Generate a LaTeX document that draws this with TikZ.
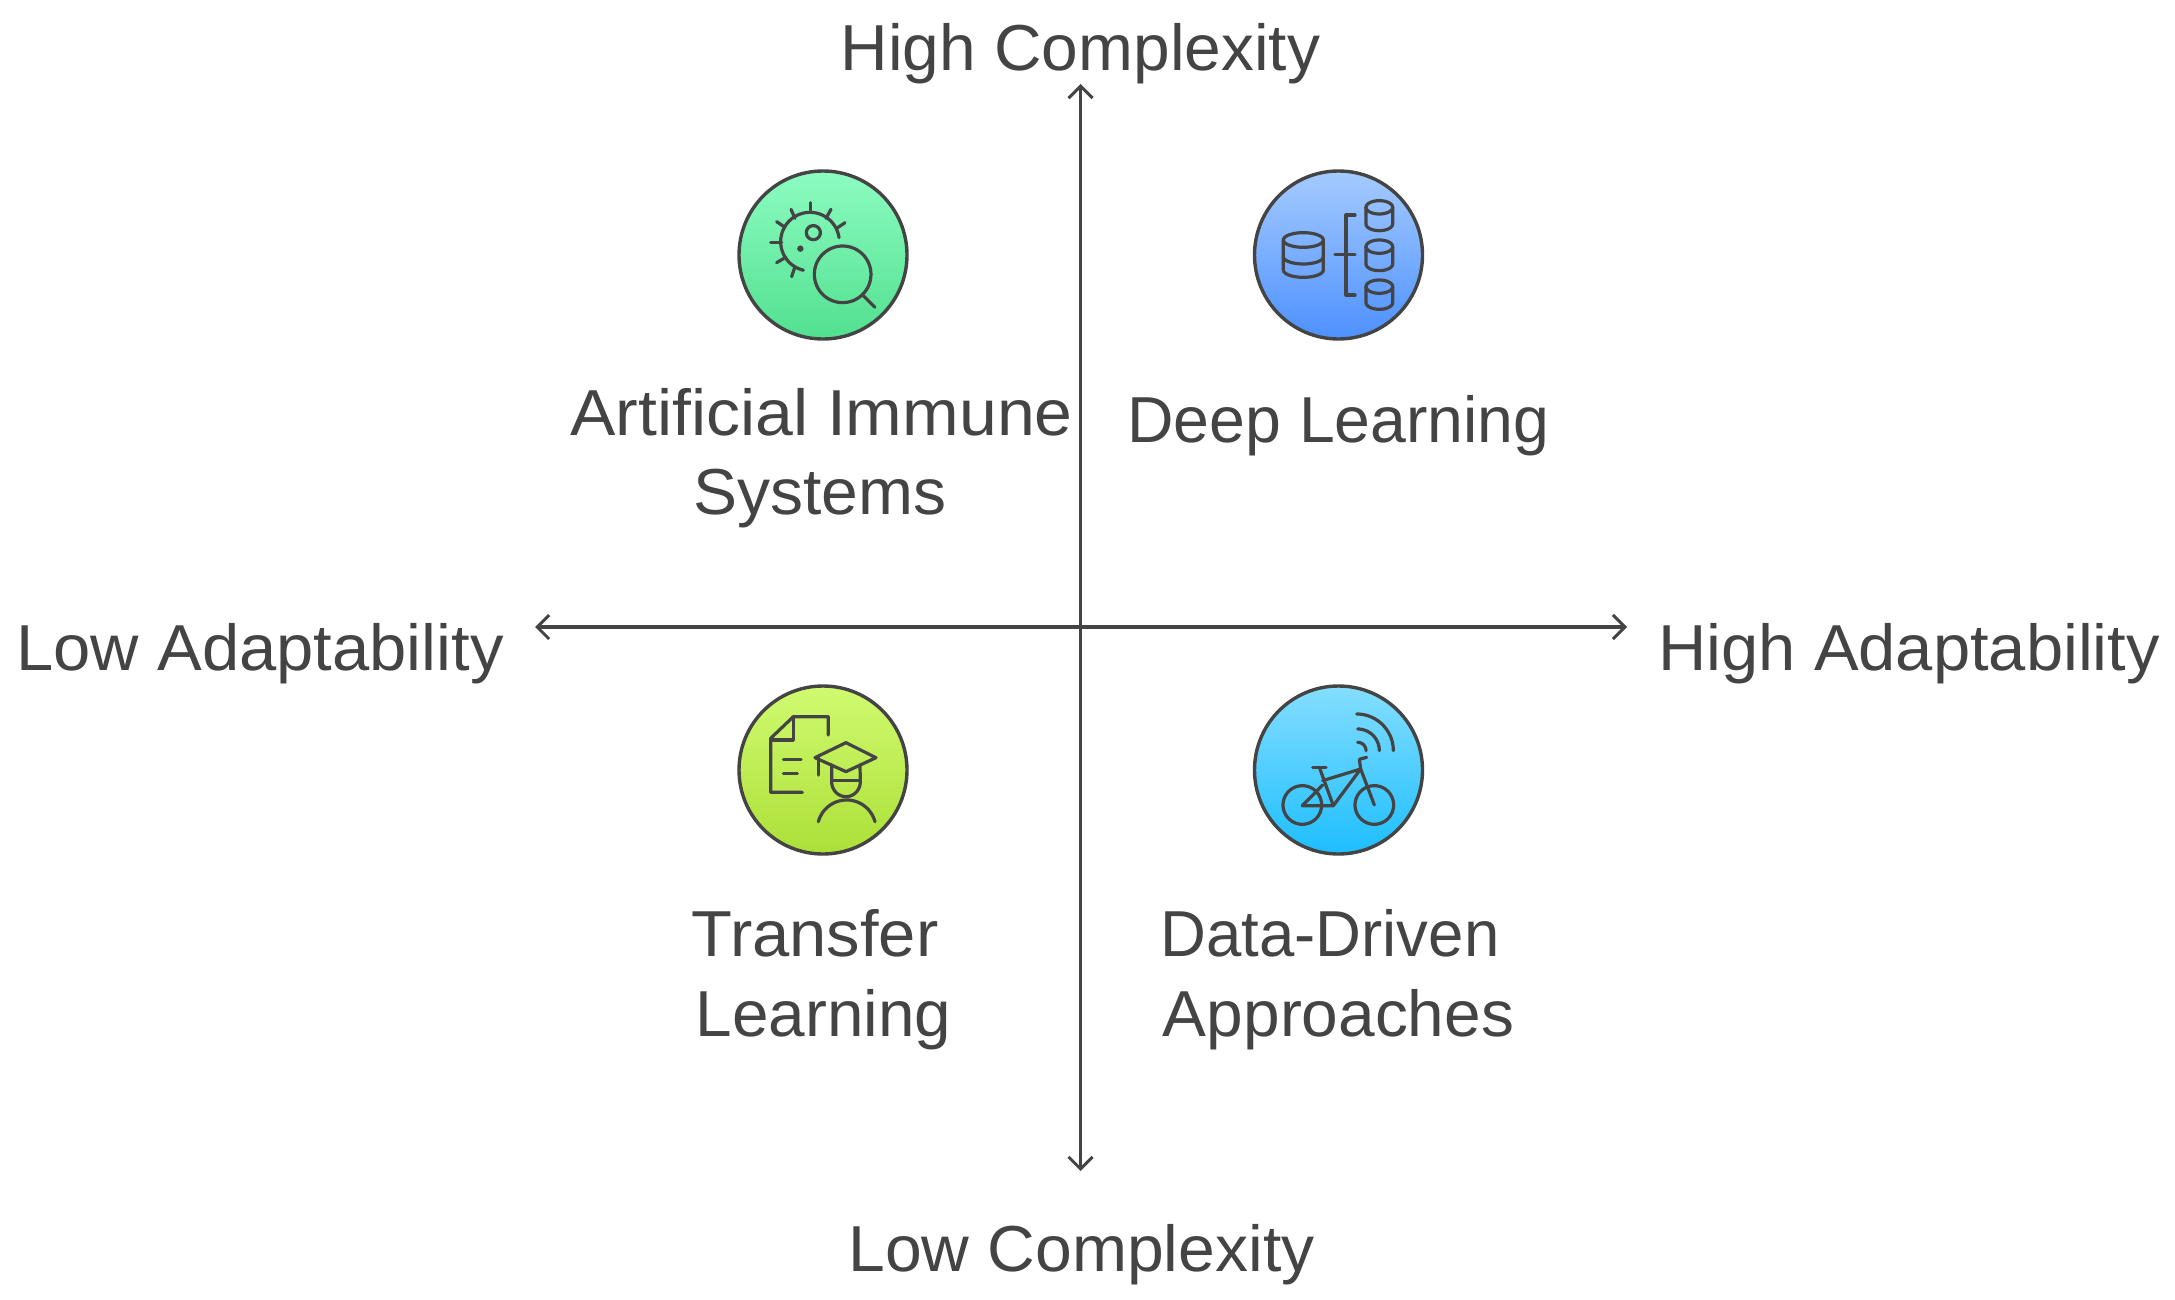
\documentclass[tikz,border=0pt]{standalone}
\usepackage{fontspec}
\setmainfont{Liberation Sans}
\usetikzlibrary{arrows.meta}
\definecolor{ink}{HTML}{444444}
\definecolor{green1}{HTML}{8CFCC0}
\definecolor{green2}{HTML}{52E090}
\definecolor{blue1}{HTML}{A5CBFF}
\definecolor{blue2}{HTML}{4D90FF}
\definecolor{lime1}{HTML}{D0FA70}
\definecolor{lime2}{HTML}{ACE038}
\definecolor{cyan1}{HTML}{85DEFF}
\definecolor{cyan2}{HTML}{1DBEFF}
\newcommand{\iarc}[5]{plot[smooth,domain=#4:#5,samples=40] ({#1+#3*cos(\x)},{#2+#3*sin(\x)})}
\newcommand{\iell}[6]{plot[smooth,domain=#5:#6,samples=40] ({#1+#3*cos(\x)},{#2+#4*sin(\x)})}
\newcommand{\sdb}[5]{% cx, top y, bottom y, rx, ry
  \draw \iell{#1}{#2}{#4}{#5}{0}{360};
  \draw (#1-#4,#2) -- (#1-#4,#3) \iell{#1}{#3}{#4}{#5}{180}{0} -- (#1+#4,#2);
}
\tikzset{
  lab/.style={anchor=base,text=ink,font=\fontsize{65}{65}\selectfont,inner sep=0pt},
  axis/.style={draw=ink,line width=3.4pt,{Straight Barb[length=12pt,width=24pt,line width=3pt]}-{Straight Barb[length=12pt,width=24pt,line width=3pt]}},
  badge/.style={circle,draw=ink,line width=3.4pt,minimum size=168pt,inner sep=0pt},
  icon/.style={x=0.3333pt,y=-0.3333pt,draw=ink,line width=3.2pt,line cap=round,line join=round},
}
\begin{document}
\begin{tikzpicture}[x=1pt,y=-1pt]
\useasboundingbox (0,0) rectangle (2175,1300);
\fill[white] (0,0) rectangle (2175,1300);
\coordinate (vt) at (1080.5,84);
\coordinate (vb) at (1080.5,1171);
\coordinate (hl) at (535,627);
\coordinate (hr) at (1627,627);
\draw[axis] (vt) -- (vb);
\draw[axis] (hl) -- (hr);
\node[badge,top color=green1,bottom color=green2] (immune) at (823,255) {};
\node[badge,top color=blue1,bottom color=blue2] (deep) at (1338.5,255) {};
\node[badge,top color=lime1,bottom color=lime2] (transfer) at (823,770) {};
\node[badge,top color=cyan1,bottom color=cyan2] (data) at (1338.5,770) {};
\node[lab] (hc) at (1080.5,71) {\scalebox{1.013}[1]{High Complexity}};
\node[lab] (lc) at (1081.5,1271) {\scalebox{1.016}[1]{Low Complexity}};
\node[lab] (la) at (260,670.5) {\scalebox{1.03}[1]{Low Adaptability}};
\node[lab] (ha) at (1909,670.5) {\scalebox{1.029}[1]{High Adaptability}};
\node[lab] (t1) at (821.5,435.5) {\scalebox{1.046}[1]{Artificial Immune}};
\node[lab] (t2) at (820,514.5) {\scalebox{1.015}[1]{Systems}};
\node[lab] (t3) at (1338.5,442.5) {\scalebox{0.99}[1]{Deep Learning}};
\node[lab] (t4) at (815,956.5) {\scalebox{1.03}[1]{Transfer}};
\node[lab] (t5) at (823.5,1036.5) {\scalebox{1.01}[1]{Learning}};
\node[lab] (t6) at (1330,956.5) {\scalebox{0.977}[1]{Data-Driven}};
\node[lab] (t7) at (1338.5,1036.5) {\scalebox{1.012}[1]{Approaches}};
% microbe
\begin{scope}[shift={(720,150)},icon]
\draw \iarc{270}{275}{88}{-8}{-257};
\foreach \a/\b/\c/\d in {272/158/272/187,333/178/318/205,375/218/350/235,213/178/225/205,170/215/195/232,152/277/185/277,170/338/197/322,215/380/225/350}
  \draw (\a,\b) -- (\c,\d);
\draw \iarc{280}{248}{21}{0}{360};
\fill[ink] (241,296) circle[radius=3.2pt];
\draw \iarc{368}{373}{85}{0}{360};
\draw (430,437) -- (465,472);
\end{scope}
% databases
\begin{scope}[shift={(1240,150)},icon]
\sdb{190}{270}{360}{60}{22}
\draw \iell{190}{320}{60}{22}{180}{0};
\sdb{418}{172}{222}{40}{20}
\sdb{418}{290}{342}{40}{20}
\sdb{418}{410}{458}{40}{20}
\draw (345,195) -- (318,195) -- (318,435) -- (345,435);
\draw (285,313) -- (345,313);
\end{scope}
% document and graduate
\begin{scope}[shift={(720,670)},icon]
\draw (325,195) -- (325,140) -- (220,140) -- (152,205) -- (152,367) -- (247,367);
\draw (220,140) -- (220,210) -- (152,210);
\draw (190,268) -- (243,268);
\draw (190,310) -- (232,310);
\draw (285,263) -- (378,218) -- (468,263) -- (378,305) -- cycle;
\draw (295,263) -- (295,315);
\draw (335,285) -- (335,335) \iell{378}{335}{43}{45}{180}{0} -- (420,285);
\draw (335,332) -- (420,332);
\draw \iarc{380}{478}{88}{-165}{-15};
\end{scope}
% bicycle
\begin{scope}[shift={(1240,670)},icon]
\draw \iarc{187}{405}{58}{0}{360};
\draw \iarc{403}{405}{58}{0}{360};
\draw (187,407) -- (280,407) -- (362,297) -- (248,332);
\draw (218,292) -- (258,292);
\draw (238,292) -- (280,407);
\draw (187,407) -- (248,345);
\draw (362,297) -- (403,405);
\draw (380,262) -- (358,268) -- (362,297);
\draw \iarc{350}{242}{110}{-90}{0};
\draw \iarc{353}{242}{65}{-90}{0};
\draw \iarc{353}{242}{25}{-90}{0};
\end{scope}
\end{tikzpicture}
\end{document}
